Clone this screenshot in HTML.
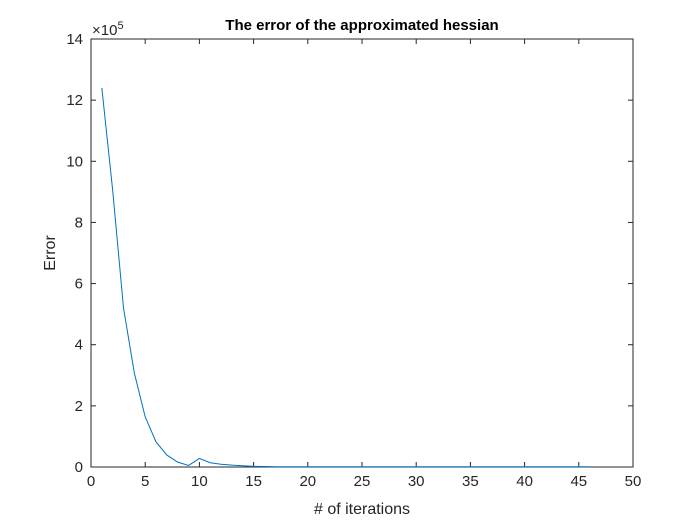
<!DOCTYPE html>
<html><head><meta charset="utf-8"><style>
body{margin:0;background:#fff;width:700px;height:525px;overflow:hidden}
svg{font-family:"Liberation Sans",Arial,sans-serif}
</style></head><body>
<svg id="chart" width="700" height="525">
<rect x="0" y="0" width="700" height="525" fill="#fff"/>
</svg>
<script>
const xs=[1,2,3,4,5,6,7,8,9,10,11,12,13,14,15,16,17,18,19,20,21,22,23,24,25,26,27,28,29,30,31,32,33,34,35,36,37,38,39,40,41,42,43,44,45,46];
const errValues=[12.4,9.05,5.2,3.07,1.64,0.82,0.39,0.16,0.05,0.28,0.14,0.09,0.06,0.04,0.02,0.015,0.01,0.01,0.01,0.01,0.01,0.01,0.01,0.01,0.01,0.01,0.01,0.01,0.01,0.01,0.01,0.01,0.01,0.01,0.01,0.01,0.01,0.01,0.01,0.01,0.01,0.01,0.01,0.01,0.01,0.01];
const xTicks=[0,5,10,15,20,25,30,35,40,45,50];
const yTicks=[0,2,4,6,8,10,12,14];
const L=91,R=633,T=39,B=467;
const sx=v=>L+(v-0)/50*(R-L);
const sy=v=>B-(v-0)/14*(B-T);
const svg=document.getElementById('chart');
const NS='http://www.w3.org/2000/svg';
function mk(tag,attrs,parent){const e=document.createElementNS(NS,tag);for(const k in attrs)e.setAttribute(k,attrs[k]);(parent||svg).appendChild(e);return e;}
const box=mk('rect',{x:L,y:T,width:R-L,height:B-T,fill:'#fff',stroke:'#262626','stroke-width':1});


xTicks.forEach(t=>{
 const x=sx(t);
 const l1=mk('line',{x1:x,x2:x,y1:B,y2:B-5,stroke:'#262626'});
 
 
 mk('line',{x1:x,x2:x,y1:T,y2:T+5,stroke:'#262626'});
 const tx=mk('text',{x:x,y:B+19,'text-anchor':'middle','font-size':15,fill:'#262626'});
 tx.textContent=t;
 
 
});
yTicks.forEach(t=>{
 const y=sy(t);
 const l1=mk('line',{x1:L,x2:L+5,y1:y,y2:y,stroke:'#262626'});
 
 
 mk('line',{x1:R,x2:R-5,y1:y,y2:y,stroke:'#262626'});
 const tx=mk('text',{x:L-8,y:y+5,'text-anchor':'end','font-size':15,fill:'#262626'});
 tx.textContent=t;
 
 
});
const pts=xs.map((x,i)=>sx(x)+','+sy(errValues[i])).join(' ');
const line=mk('polyline',{points:pts,fill:'none',stroke:'#0072bd','stroke-width':1});


const ex=mk('text',{x:92,y:35,'font-size':15,fill:'#262626'});
ex.innerHTML='×10<tspan dy="-6" font-size="11">5</tspan>';


const title=mk('text',{x:362,y:30,'text-anchor':'middle','font-size':15,'font-weight':'bold',fill:'#000'});
title.textContent='The error of the approximated hessian';


const xl=mk('text',{x:362,y:514,'text-anchor':'middle','font-size':16,fill:'#262626'});
xl.textContent='# of iterations';


const yl=mk('text',{x:0,y:0,'text-anchor':'middle','font-size':16,fill:'#262626',transform:'translate(55,253) rotate(-90)'});
yl.textContent='Error';


</script>
</body></html>
